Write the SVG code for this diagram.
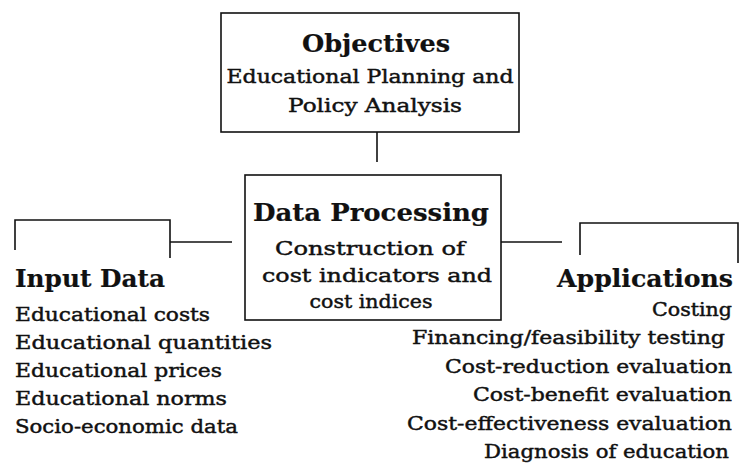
<svg xmlns="http://www.w3.org/2000/svg" width="740" height="470" viewBox="0 0 740 470">
<style>
text{font-family:"DejaVu Serif","Liberation Serif",serif;fill:#111;stroke:#111;stroke-width:0.45;font-size:19px}
.h{font-weight:bold;font-size:25px;stroke-width:0.2}
.m{text-anchor:middle}
.e{text-anchor:end}
.ln{stroke:#111;stroke-width:1.6;fill:none}
</style>
<rect width="740" height="470" fill="#fff"/>
<g id="objectives">
<rect class="ln" x="221" y="13" width="298" height="119"/>
<text class="h m" x="376" y="52" textLength="148" lengthAdjust="spacingAndGlyphs">Objectives</text>
<text class="m" x="370" y="83" textLength="287" lengthAdjust="spacingAndGlyphs">Educational Planning and</text>
<text class="m" x="375" y="112" textLength="174" lengthAdjust="spacingAndGlyphs">Policy Analysis</text>
</g>
<g id="data-processing">
<rect class="ln" x="245" y="175" width="256" height="145"/>
<text class="h m" x="371" y="221" textLength="236" lengthAdjust="spacingAndGlyphs">Data Processing</text>
<text class="m" x="370" y="255" textLength="190" lengthAdjust="spacingAndGlyphs">Construction of</text>
<text class="m" x="377" y="282" textLength="230" lengthAdjust="spacingAndGlyphs">cost indicators and</text>
<text class="m" x="371" y="308" textLength="123" lengthAdjust="spacingAndGlyphs">cost indices</text>
</g>
<g id="input-data">
<path class="ln" d="M15 250V220H170V258"/>
<text class="h" x="15" y="287" textLength="150" lengthAdjust="spacingAndGlyphs">Input Data</text>
<text x="15" y="321" textLength="195" lengthAdjust="spacingAndGlyphs">Educational costs</text>
<text x="15" y="349" textLength="257" lengthAdjust="spacingAndGlyphs">Educational quantities</text>
<text x="15" y="377" textLength="207" lengthAdjust="spacingAndGlyphs">Educational prices</text>
<text x="15" y="405" textLength="212" lengthAdjust="spacingAndGlyphs">Educational norms</text>
<text x="15" y="433" textLength="223" lengthAdjust="spacingAndGlyphs">Socio-economic data</text>
</g>
<g id="applications">
<path class="ln" d="M580 255V223H738V263"/>
<text class="h e" x="733" y="287" textLength="176" lengthAdjust="spacingAndGlyphs">Applications</text>
<text class="e" x="732" y="316" textLength="80" lengthAdjust="spacingAndGlyphs">Costing</text>
<text class="e" x="725" y="344" textLength="313" lengthAdjust="spacingAndGlyphs">Financing/feasibility testing</text>
<text class="e" x="732" y="373" textLength="287" lengthAdjust="spacingAndGlyphs">Cost-reduction evaluation</text>
<text class="e" x="732" y="401" textLength="259" lengthAdjust="spacingAndGlyphs">Cost-benefit evaluation</text>
<text class="e" x="732" y="430" textLength="325" lengthAdjust="spacingAndGlyphs">Cost-effectiveness evaluation</text>
<text class="e" x="729" y="458" textLength="245" lengthAdjust="spacingAndGlyphs">Diagnosis of education</text>
</g>
<g id="connectors">
<path class="ln" d="M377 132V162"/>
<path class="ln" d="M170 242H232"/>
<path class="ln" d="M501 242H562"/>
</g>
</svg>
